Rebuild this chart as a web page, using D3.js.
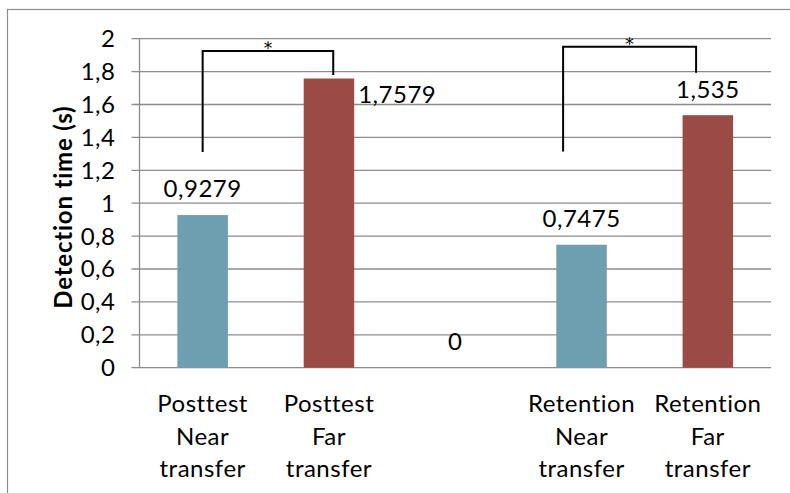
<!DOCTYPE html>
<html>
<head>
<meta charset="utf-8">
<script src="https://cdn.jsdelivr.net/npm/d3@7/dist/d3.min.js"></script>
<style>
  html, body { margin: 0; padding: 0; background: #fff; }
  svg { display: block; }
  text { font-family: Lato, "Open Sans", sans-serif; fill: #000; font-variant-ligatures: none; }
</style>
</head>
<body>
<svg id="chart" width="790" height="493"></svg>
<script>
// Detection time per test phase and transfer type
const categories = ["Posttest|Near|transfer", "Posttest|Far|transfer", "", "Retention|Near|transfer", "Retention|Far|transfer"];
const values = [0.9279, 1.7579, 0, 0.7475, 1.535];
const valueLabels = ["0,9279", "1,7579", "0", "0,7475", "1,535"];
const barColors = ["#6d9fb0", "#9a4b45", "#6d9fb0", "#6d9fb0", "#9a4b45"];
const yTicks = [0, 0.2, 0.4, 0.6, 0.8, 1, 1.2, 1.4, 1.6, 1.8, 2];
const yTickLabels = ["0", "0,2", "0,4", "0,6", "0,8", "1", "1,2", "1,4", "1,6", "1,8", "2"];
const yTitle = "Detection time (s)";

// Significance brackets: [left position, right position] in category units,
// with the heights of the left foot, the top bar and the right foot.
const bracketPos = [[0.0, 1.034], [2.854, 3.907]];
const bracketLeftFoot = [1.311, 1.315];
const bracketTop = [1.925, 1.951];
const bracketRightFoot = [1.78, 1.793];
const bracketMark = ["*", "*"];

const svg = d3.select("#chart");
const plot = { left: 139.5, right: 771, top: 38.7, bottom: 367.7 };
const fs = "24px";
const ls = "0.5px";

// outer chart frame
svg.append("rect")
  .attr("x", 7.5).attr("y", 9.5)
  .attr("width", 800).attr("height", 500)
  .attr("fill", "none").attr("stroke", "#8c8c8c").attr("stroke-width", 1.2);

const x = d3.scaleBand()
  .domain(d3.range(categories.length))
  .range([plot.left, plot.right])
  .paddingInner(0.6).paddingOuter(0.3);

// continuous position across categories (index units)
const xc = d3.scaleLinear()
  .domain([-0.5, categories.length - 0.5])
  .range([plot.left, plot.right]);

const y = d3.scaleLinear().domain([0, 2]).range([plot.bottom, plot.top]);

// gridlines
svg.append("g")
  .selectAll("line")
  .data(yTicks)
  .join("line")
  .attr("x1", plot.left - 8).attr("x2", plot.right)
  .attr("y1", d => y(d)).attr("y2", d => y(d))
  .attr("stroke", "#8c8c8c").attr("stroke-width", 1.3);

// y axis line
svg.append("line")
  .attr("x1", plot.left).attr("x2", plot.left)
  .attr("y1", y(2)).attr("y2", y(0))
  .attr("stroke", "#8c8c8c").attr("stroke-width", 1.3);

// y tick labels
svg.append("g")
  .selectAll("text")
  .data(yTicks)
  .join("text")
  .attr("x", plot.left - 24)
  .attr("y", d => y(d))
  .attr("dy", "0.35em")
  .attr("text-anchor", "end")
  .style("font-size", fs)
  .style("letter-spacing", ls)
  .text((d, i) => yTickLabels[i]);

// y axis title
svg.append("text")
  .attr("transform", `translate(64,${(plot.top + plot.bottom) / 2 + 4}) rotate(-90)`)
  .attr("text-anchor", "middle")
  .attr("dy", "0.35em")
  .style("font-size", "24px")
  .style("letter-spacing", "0.8px")
  .style("font-weight", "bold")
  .text(yTitle);

// bars
svg.append("g")
  .selectAll("rect")
  .data(values)
  .join("rect")
  .attr("x", (d, i) => x(i))
  .attr("width", x.bandwidth())
  .attr("y", d => y(d))
  .attr("height", d => y(0) - y(d))
  .attr("fill", (d, i) => barColors[i]);

// value labels
const labelPos = values.map((v, i) => i === 1
  ? { x: x(i) + x.bandwidth() + 4, y: y(v) + 16, anchor: "start" }
  : { x: x(i) + x.bandwidth() / 2, y: y(v) - 26, anchor: "middle" });

svg.append("g")
  .selectAll("text")
  .data(values)
  .join("text")
  .attr("x", (d, i) => labelPos[i].x)
  .attr("y", (d, i) => labelPos[i].y)
  .attr("dy", "0.35em")
  .attr("text-anchor", (d, i) => labelPos[i].anchor)
  .style("font-size", fs)
  .style("letter-spacing", ls)
  .text((d, i) => valueLabels[i]);

// category labels (multi-line)
const catG = svg.append("g")
  .selectAll("text")
  .data(categories)
  .join("text")
  .attr("x", (d, i) => x(i) + x.bandwidth() / 2)
  .attr("y", 404)
  .attr("text-anchor", "middle")
  .style("font-size", fs)
  .style("letter-spacing", ls);
catG.selectAll("tspan")
  .data(d => d ? d.split("|") : [])
  .join("tspan")
  .attr("x", function () { return d3.select(this.parentNode).attr("x"); })
  .attr("dy", (d, i) => i === 0 ? "0.35em" : "32.5px")
  .text(d => d);

// significance brackets
const br = svg.append("g");
bracketPos.forEach((p, i) => {
  const x0 = xc(p[0]), x1 = xc(p[1]);
  br.append("path")
    .attr("d", `M${x0},${y(bracketLeftFoot[i])}V${y(bracketTop[i])}H${x1}V${y(bracketRightFoot[i])}`)
    .attr("fill", "none")
    .attr("stroke", "#000")
    .attr("stroke-width", 2);
  br.append("text")
    .attr("x", (x0 + x1) / 2)
    .attr("y", y(bracketTop[i]) + 3)
    .attr("text-anchor", "middle")
    .style("font-size", "17px")
    .style("font-family", "'DejaVu Sans', sans-serif")
    .text(bracketMark[i]);
});
</script>
</body>
</html>
